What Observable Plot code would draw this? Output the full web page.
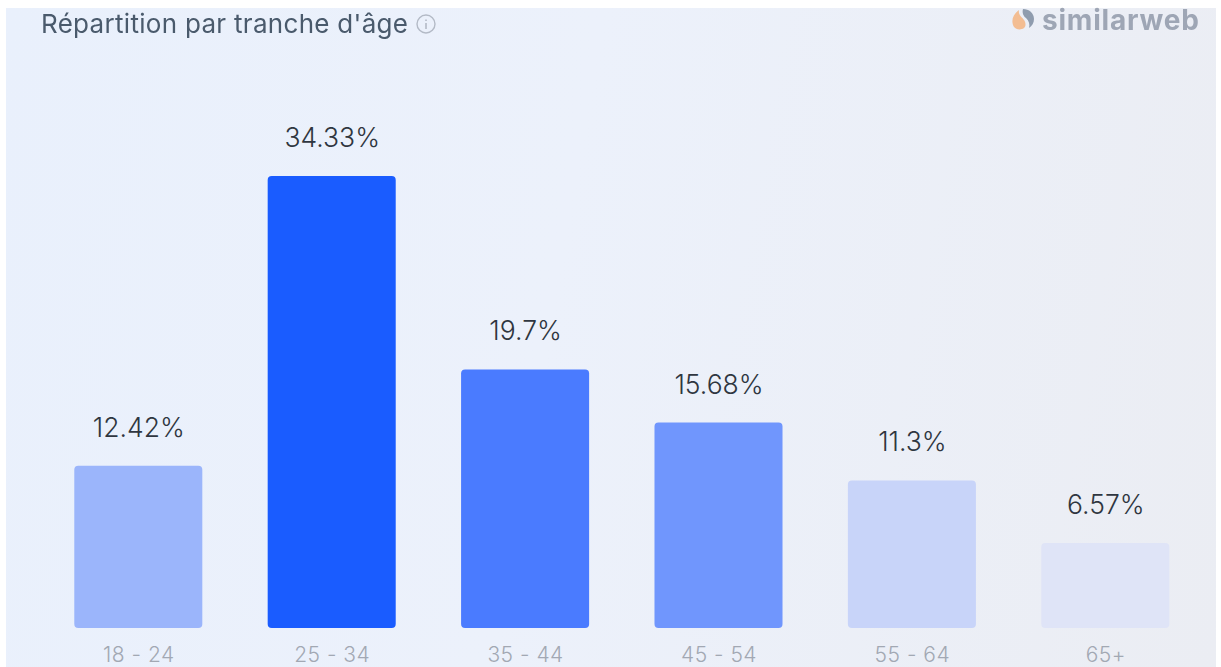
<!DOCTYPE html>
<html lang="fr">
<head>
<meta charset="utf-8">
<script src="https://cdn.jsdelivr.net/npm/d3@7"></script>
<script src="https://cdn.jsdelivr.net/npm/@observablehq/plot@0.6"></script>
<style>
  html, body { margin: 0; padding: 0; background: #fff; overflow: hidden; }
  #stage { position: relative; width: 1221px; height: 667px; overflow: hidden; filter: blur(0.55px); }
  #panel { position: absolute; left: 6px; top: 8px; width: 1210px; height: 659px;
           background: linear-gradient(100deg, #e9f0fc 0%, #ecf1fb 45%, #ebedf3 100%); }
  #chart { position: absolute; left: 0; top: 0; }
  #chart svg { background: transparent; display: block; }
  #chart svg g[aria-label="x-axis tick label"] text { letter-spacing: 0.5px; }
  #title { position: absolute; left: 41px; top: 6px; font: 400 26px/36px Inter, sans-serif; color: #4a5a6c;
           letter-spacing: 0.3px; white-space: nowrap; display: flex; align-items: center; gap: 7px; }
  #brand { position: absolute; left: 1011px; top: 2px; display: flex; align-items: center; gap: 7px;
           font: 700 28px/36px Inter, sans-serif; color: #9ea6b5; letter-spacing: 0.8px; white-space: nowrap; }
</style>
</head>
<body>
<div id="stage">
  <div id="panel"></div>
  <div id="chart"></div>
  <div id="title"><span>Répartition par tranche d'âge</span>
    <svg width="22" height="22" viewBox="0 0 22 22"><circle cx="11" cy="11" r="9" fill="none" stroke="#b3bac6" stroke-width="1.4"/><path d="M11 10v6M11 6.5v1.6" stroke="#b3bac6" stroke-width="1.6"/></svg>
  </div>
  <div id="brand">
    <svg width="24" height="24" viewBox="0 0 24 24"><path d="M8 2C3 6 0 11 2 17c1 4 7 6 11 3 2-2 2-5 0-8C11 9 7 7 8 2z" fill="#f3bd92"/><path d="M12 1c6 0 11 4 11 10 0 4-2 7-5 9 1-4 0-7-3-10-3-2-4-6-3-9z" fill="#8f9cae"/></svg>
    <span>similarweb</span>
  </div>
</div>
<script>
const categories = ["18 - 24", "25 - 34", "35 - 44", "45 - 54", "55 - 64", "65+"];
const shares = [12.42, 34.33, 19.7, 15.68, 11.3, 6.57];
const barColors = ["#9bb5fb", "#1a5cff", "#4a7bff", "#7096fd", "#c8d4f9", "#dfe4f7"];
const baseline = 0.14;
const rows = categories.map((category, i) => ({category, share: shares[i]}));

const plot = Plot.plot({
  width: 1221,
  height: 667,
  marginTop: 176,
  marginBottom: 39,
  marginLeft: 41.6,
  marginRight: 19,
  style: {background: "transparent", overflow: "visible"},
  x: {domain: categories, paddingInner: 0.338, paddingOuter: 0.169, round: false, label: null},
  y: {domain: [baseline, d3.max(shares)], axis: null},
  color: {domain: categories, range: barColors},
  marks: [
    Plot.axisX({anchor: "bottom", tickSize: 0, tickPadding: 19, fontSize: 21, fill: "#a2a8b3",
                fontFamily: "Inter, sans-serif", fontWeight: 300, label: null}),
    Plot.barY(rows, {x: "category", y1: () => baseline, y2: "share", fill: "category", rx: 4}),
    Plot.text(rows, {x: "category", y: "share", text: d => d.share + "%", dy: -38, lineAnchor: "middle",
                     fontSize: 26.5, fill: "#2f3640", fontFamily: "Inter, sans-serif", fontWeight: 300})
  ]
});
document.getElementById("chart").appendChild(plot);
</script>
</body>
</html>
